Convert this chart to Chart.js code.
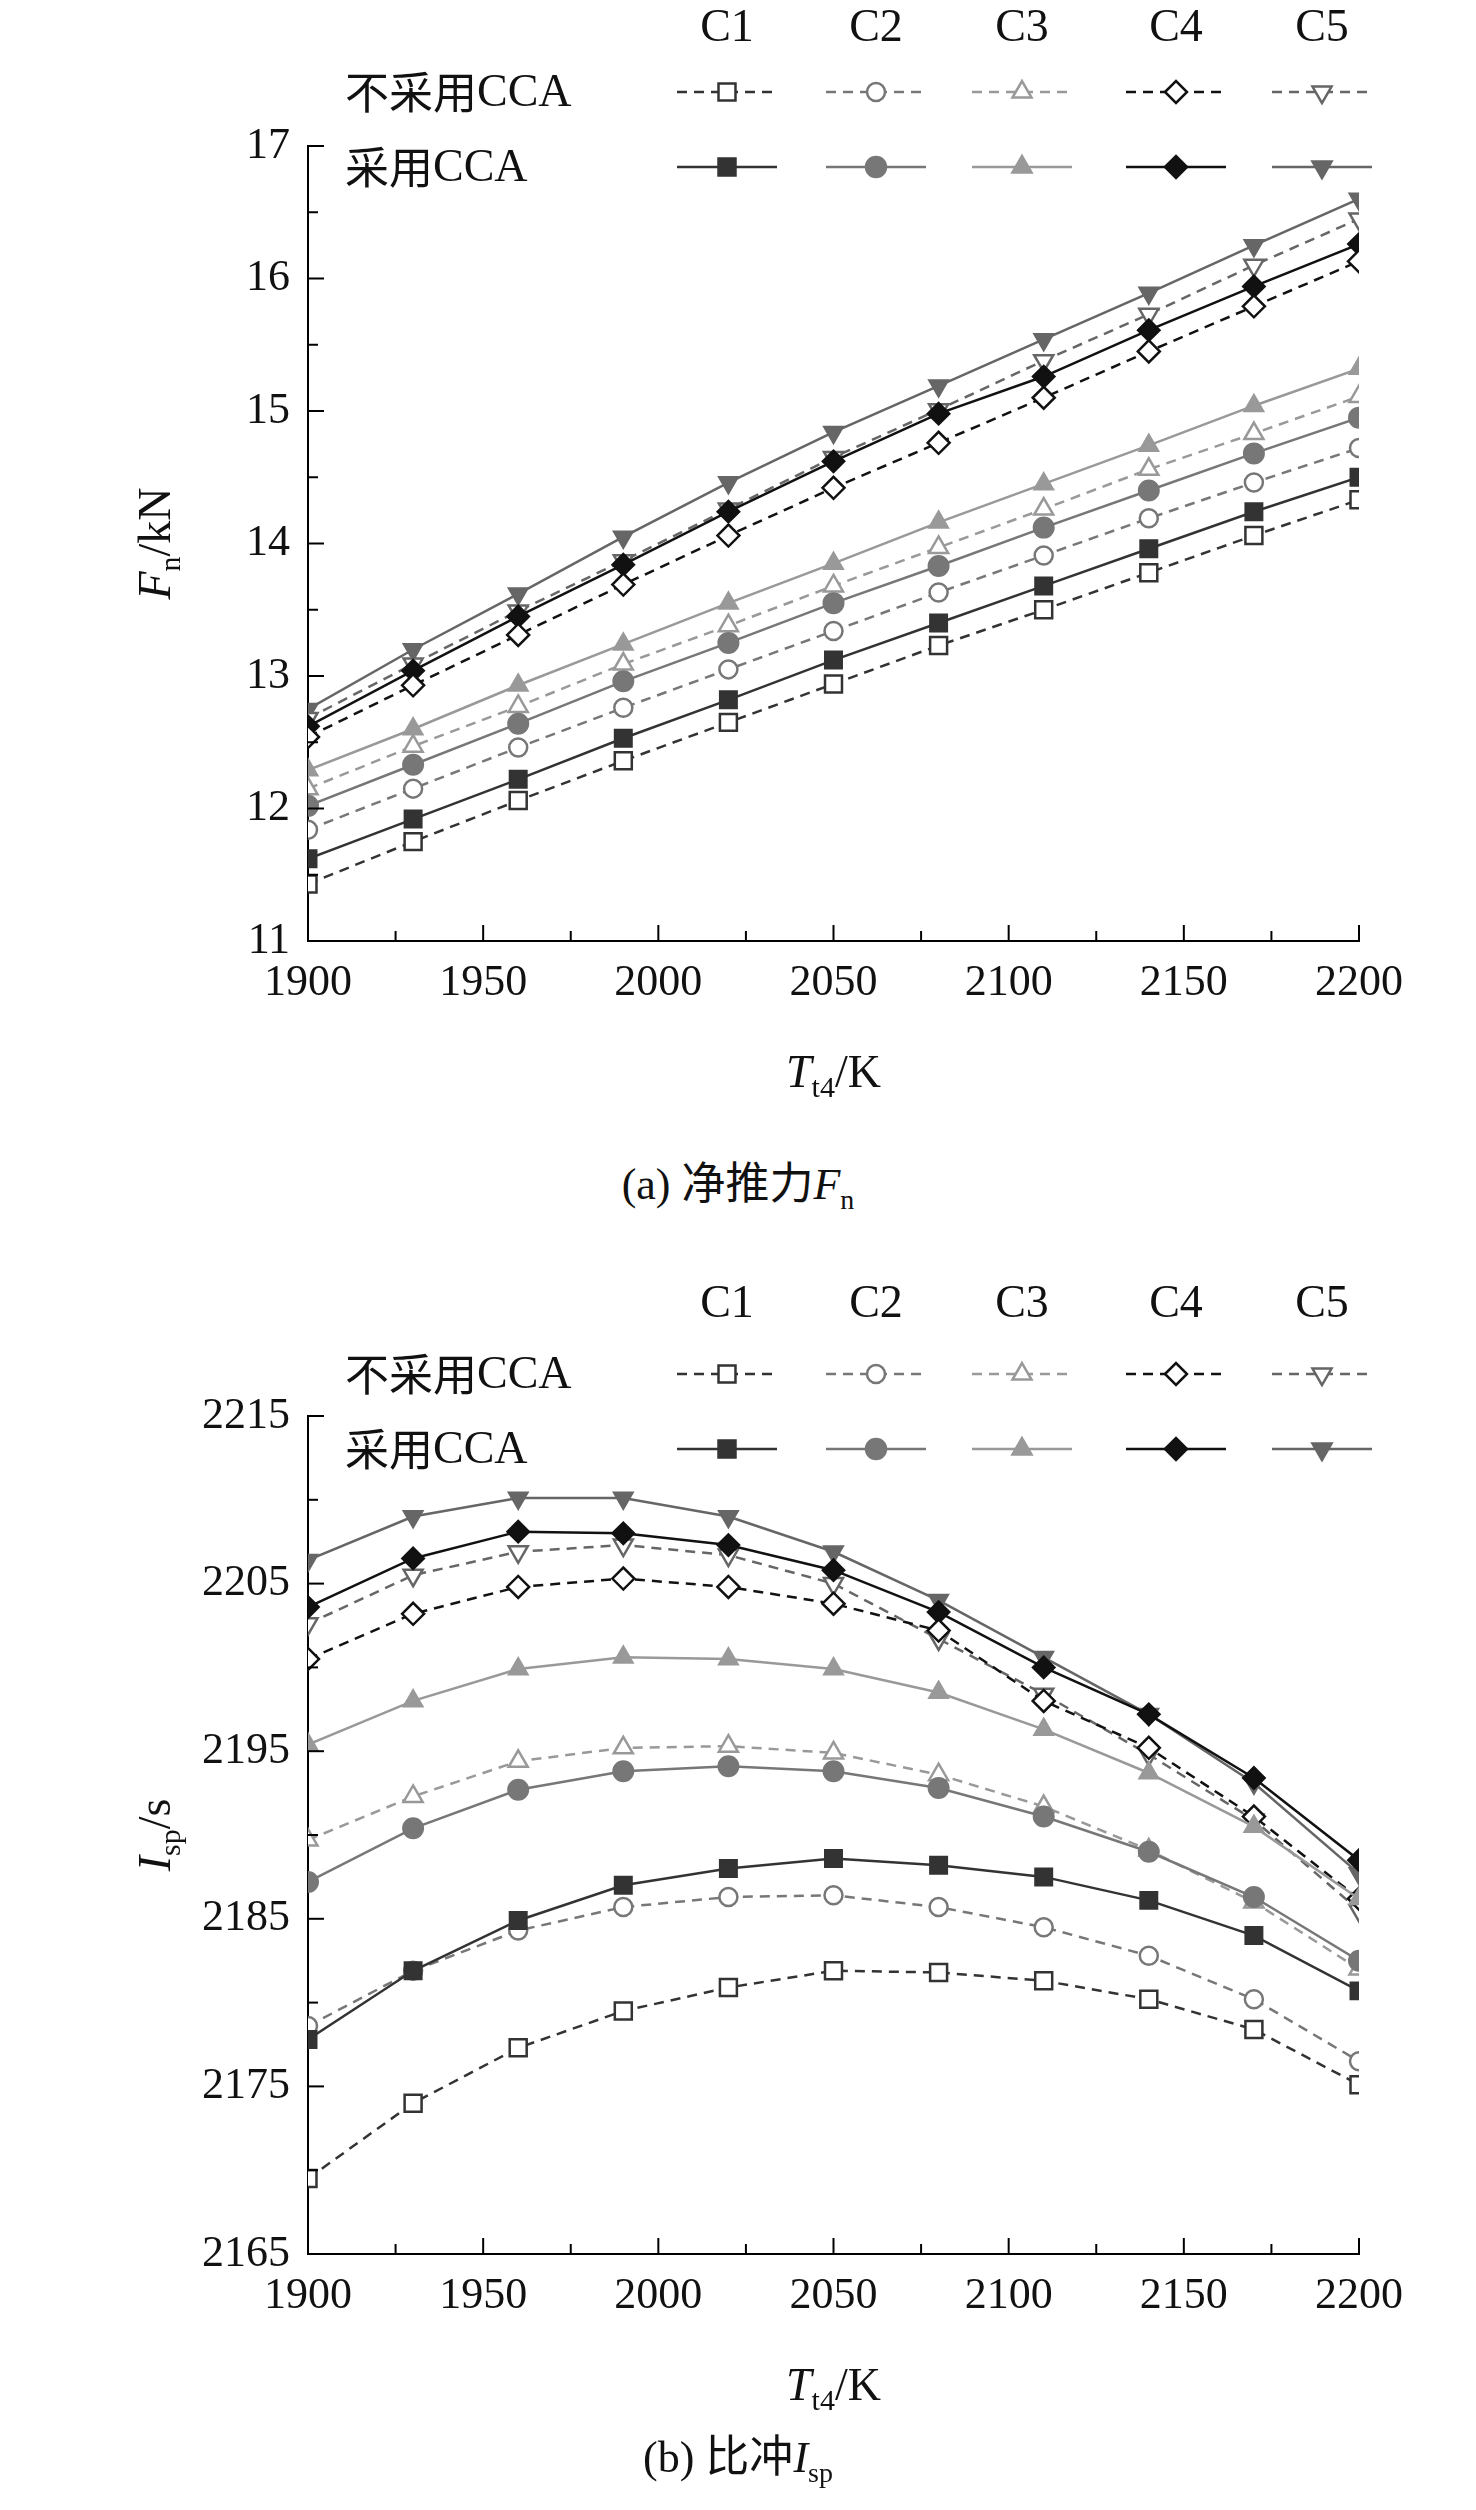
<!DOCTYPE html>
<html><head><meta charset="utf-8">
<script src="https://cdn.jsdelivr.net/npm/chart.js@4"></script>
<style>
body{margin:0;background:#fff;width:1476px;height:2510px;position:relative;overflow:hidden;font-family:"Liberation Serif","Noto Sans CJK SC",serif}
.w{position:absolute;left:0;width:1476px}
.cap{position:absolute;left:0;width:1476px;text-align:center;font-size:44px;color:#111;font-family:"Liberation Serif","Noto Sans CJK SC",serif}
</style></head><body>
<div class="w" style="top:0;height:1148px"><canvas id="c1"></canvas></div>
<div class="cap" style="top:1148px">(a) 净推力<i>F</i><sub style="font-size:28px">n</sub></div>
<div class="w" style="top:1274px;height:1200px"><canvas id="c2"></canvas></div>
<div class="cap" style="top:2421px">(b) 比冲<i>I</i><sub style="font-size:28px">sp</sub></div>
<script>
const temps=[1900,1930,1960,1990,2020,2050,2080,2110,2140,2170,2200];
const names=['C1','C2','C3','C4','C5'];
// Net thrust Fn (kN)
const fnNo={
C1:[11.43,11.75,12.06,12.36,12.65,12.94,13.23,13.50,13.78,14.06,14.33],
C2:[11.84,12.15,12.46,12.76,13.05,13.34,13.63,13.91,14.19,14.46,14.72],
C3:[12.15,12.47,12.77,13.09,13.38,13.68,13.97,14.26,14.56,14.83,15.11],
C4:[12.54,12.93,13.31,13.69,14.06,14.42,14.76,15.10,15.45,15.79,16.13],
C5:[12.68,13.09,13.49,13.87,14.26,14.65,15.01,15.38,15.73,16.10,16.45]};
const fnCCA={
C1:[11.62,11.92,12.22,12.53,12.82,13.12,13.40,13.68,13.96,14.24,14.50],
C2:[12.02,12.33,12.64,12.96,13.25,13.55,13.83,14.12,14.40,14.68,14.95],
C3:[12.29,12.60,12.93,13.24,13.55,13.85,14.16,14.45,14.74,15.04,15.32],
C4:[12.62,13.04,13.45,13.84,14.24,14.62,14.98,15.26,15.61,15.94,16.26],
C5:[12.75,13.20,13.62,14.05,14.46,14.84,15.19,15.54,15.89,16.25,16.60]};
// Specific impulse Isp (s)
const ispNo={
C1:[2169.5,2174.0,2177.3,2179.5,2180.9,2181.9,2181.8,2181.3,2180.2,2178.4,2175.1],
C2:[2178.6,2181.9,2184.3,2185.7,2186.3,2186.4,2185.7,2184.5,2182.8,2180.2,2176.5],
C3:[2189.7,2192.3,2194.4,2195.2,2195.3,2194.9,2193.6,2191.7,2189.1,2186.0,2182.0],
C4:[2200.5,2203.2,2204.8,2205.3,2204.8,2203.8,2202.2,2198.0,2195.2,2191.1,2186.2],
C5:[2202.6,2205.5,2206.9,2207.3,2206.7,2205.0,2201.7,2198.4,2194.8,2190.9,2185.5]};
const ispCCA={
C1:[2177.8,2181.9,2184.9,2187.0,2188.0,2188.6,2188.2,2187.5,2186.1,2184.0,2180.7],
C2:[2187.2,2190.4,2192.7,2193.8,2194.1,2193.8,2192.8,2191.1,2189.0,2186.3,2182.5],
C3:[2195.4,2198.0,2199.9,2200.6,2200.5,2199.9,2198.5,2196.3,2193.7,2190.5,2186.2],
C4:[2203.6,2206.5,2208.1,2208.0,2207.3,2205.8,2203.3,2200.0,2197.2,2193.4,2188.5],
C5:[2206.4,2209.0,2210.1,2210.1,2209.0,2206.9,2204.0,2200.6,2197.2,2193.1,2187.7]};

const sty={C1:{c:'#333',p:'rect',r:0},C2:{c:'#777',p:'circle',r:0},C3:{c:'#999',p:'triangle',r:0},C4:{c:'#111',p:'rectRot',r:0},C5:{c:'#666',p:'triangle',r:180}};
const SERIF='"Liberation Serif","Noto Sans CJK SC",serif';
const CJK='"Noto Sans CJK SC",sans-serif';
function rad(p,hollow){return p==='rect'?12:p==='circle'?(hollow?9:10):11;}

function datasets(no,cca){
  const ds=[];
  names.forEach(n=>{const s=sty[n];
    ds.push({data:temps.map((t,i)=>({x:t,y:no[n][i]})),borderColor:s.c,borderWidth:2.5,borderDash:[10,7],
      pointStyle:s.p,rotation:s.r,pointRadius:rad(s.p,true),pointBackgroundColor:'#fff',pointBorderColor:s.c,pointBorderWidth:2.5,tension:0});
    ds.push({data:temps.map((t,i)=>({x:t,y:cca[n][i]})),borderColor:s.c,borderWidth:2.5,
      pointStyle:s.p,rotation:s.r,pointRadius:rad(s.p,false),pointBackgroundColor:s.c,pointBorderColor:s.c,pointBorderWidth:2,tension:0});
  });
  return ds;
}
const legX=[727,876,1022,1176,1322];
function mixText(ctx,cn,en,x,y){
  ctx.font='44px '+CJK;ctx.fillText(cn,x,y);const w=ctx.measureText(cn).width;
  ctx.font='46px '+SERIF;ctx.fillText(en,x+w,y+2);
}
function mkChart(id,no,cca,ymin,ymax,ystep,yminor,ytitle,ysub,topPad,xh,headerY,row1Y,row2Y){
  const deco={id:'deco',afterDraw(ch){
    const ctx=ch.ctx,xs=ch.scales.x,ys=ch.scales.y,a=ch.chartArea;
    ctx.save();ctx.strokeStyle='#000';ctx.lineWidth=2;
    for(let v=1900;v<=2200;v+=25){const p=xs.getPixelForValue(v);const L=v%50===0?16:10;ctx.beginPath();ctx.moveTo(p,a.bottom);ctx.lineTo(p,a.bottom-L);ctx.stroke();}
    for(let v=ymin;v<=ymax+1e-9;v+=yminor){const p=ys.getPixelForValue(v);const maj=Math.abs((v-ymin)/ystep-Math.round((v-ymin)/ystep))<1e-6;ctx.beginPath();ctx.moveTo(a.left,p);ctx.lineTo(a.left+(maj?16:10),p);ctx.stroke();}
    ctx.fillStyle='#111';ctx.textBaseline='alphabetic';
    const xt=(a.left+a.right)/2, xy=a.bottom+146;
    ctx.font='italic 46px '+SERIF;const w1=ctx.measureText('T').width;
    ctx.font='30px '+SERIF;const w2=ctx.measureText('t4').width;
    ctx.font='46px '+SERIF;const w3=ctx.measureText('/K').width;
    let sx=xt-(w1+w2+w3)/2;
    ctx.font='italic 46px '+SERIF;ctx.textAlign='left';ctx.fillText('T',sx,xy);
    ctx.font='30px '+SERIF;ctx.fillText('t4',sx+w1,xy+10);
    ctx.font='46px '+SERIF;ctx.fillText('/K',sx+w1+w2,xy);
    ctx.save();ctx.translate(170,(a.top+a.bottom)/2);ctx.rotate(-Math.PI/2);
    ctx.font='italic 46px '+SERIF;const u1=ctx.measureText(ytitle[0]).width;
    ctx.font='30px '+SERIF;const u2=ctx.measureText(ysub).width;
    ctx.font='46px '+SERIF;const u3=ctx.measureText(ytitle[1]).width;
    let s2=-(u1+u2+u3)/2;
    ctx.font='italic 46px '+SERIF;ctx.fillText(ytitle[0],s2,0);
    ctx.font='30px '+SERIF;ctx.fillText(ysub,s2+u1,10);
    ctx.font='46px '+SERIF;ctx.fillText(ytitle[1],s2+u1+u2,0);
    ctx.restore();
    ctx.textAlign='center';ctx.textBaseline='middle';ctx.font='46px '+SERIF;
    names.forEach((n,i)=>ctx.fillText(n,legX[i],headerY));
    ctx.textAlign='left';
    mixText(ctx,'不采用','CCA',345,row1Y);mixText(ctx,'采用','CCA',345,row2Y);
    names.forEach((n,i)=>{const s=sty[n];const cx=legX[i];
      [[row1Y,true],[row2Y,false]].forEach(([yy,hollow])=>{
        ctx.strokeStyle=s.c;ctx.lineWidth=2.5;ctx.setLineDash(hollow?[10,7]:[]);
        ctx.beginPath();ctx.moveTo(cx-50,yy);ctx.lineTo(cx+50,yy);ctx.stroke();ctx.setLineDash([]);
        ctx.fillStyle=hollow?'#fff':s.c;ctx.strokeStyle=s.c;ctx.lineWidth=2.5;
        Chart.helpers.drawPoint(ctx,{pointStyle:s.p,rotation:s.r,radius:rad(s.p,hollow),borderWidth:2.5},cx,yy);
      });
    });
    ctx.restore();
  }};
  return new Chart(document.getElementById(id),{type:'line',data:{datasets:datasets(no,cca)},
    options:{responsive:true,maintainAspectRatio:false,animation:false,
      layout:{padding:{left:0,right:117,top:topPad,bottom:0}},
      plugins:{legend:{display:false},tooltip:{enabled:false}},
      scales:{
        x:{type:'linear',min:1900,max:2200,grid:{display:false},border:{color:'#000',width:2},
          ticks:{stepSize:50,color:'#111',font:{size:44,family:SERIF},padding:8,maxRotation:0,callback:v=>String(v)},
          afterFit(s){s.height=xh;}},
        y:{min:ymin,max:ymax,grid:{display:false},border:{color:'#000',width:2},
          ticks:{stepSize:ystep,color:'#111',font:{size:44,family:SERIF},padding:10,callback:v=>String(v)},
          afterFit(s){s.width=308;}}
      }},plugins:[deco]});
}
mkChart('c1',fnNo,fnCCA,11,17,1,0.5,['F','/kN'],'n',146,207,29,92,167);
mkChart('c2',ispNo,ispCCA,2165,2215,10,5,['I','/s'],'sp',142,220,1305-1274,1374-1274,1449-1274);
</script>
</body></html>
